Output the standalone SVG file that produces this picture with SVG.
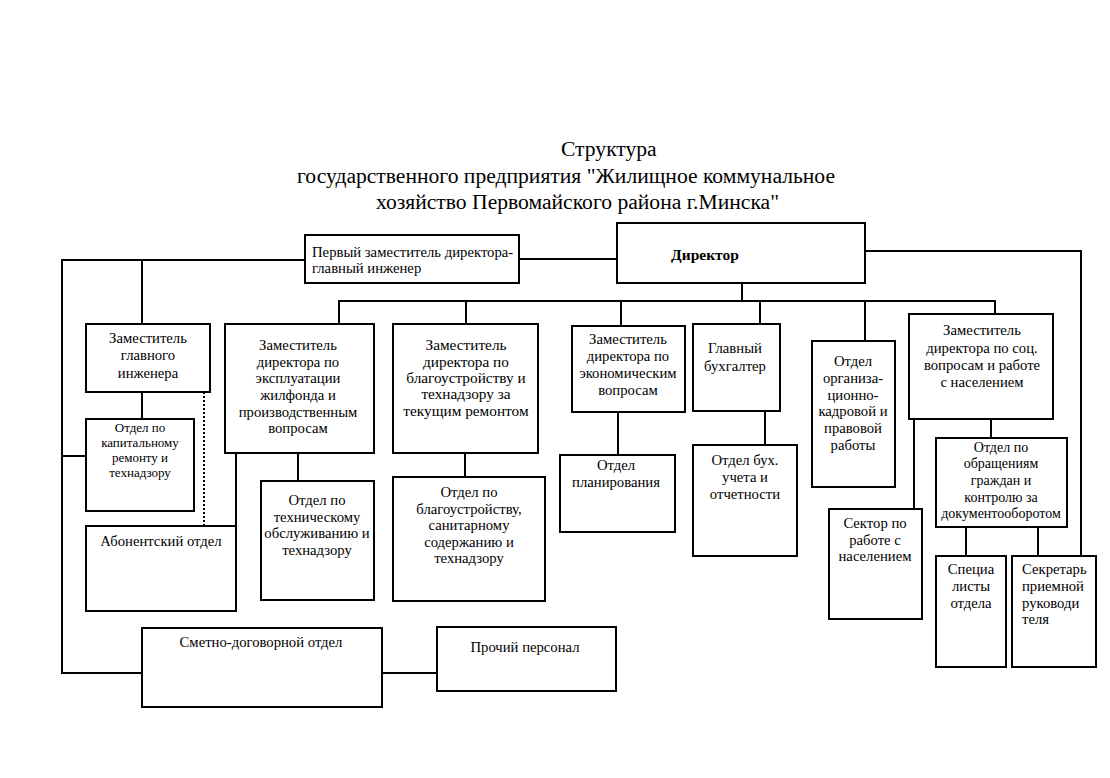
<svg xmlns="http://www.w3.org/2000/svg" width="1110" height="778" viewBox="0 0 1110 778">
<style>
.b{fill:#fff;stroke:#000;stroke-width:2}
.c{fill:none;stroke:#000;stroke-width:2}
.d{fill:none;stroke:#000;stroke-width:2;stroke-dasharray:2 2}
text{font-family:"Liberation Serif","Times New Roman",serif;font-size:14.7px;fill:#000}
.m{text-anchor:middle}
.t{font-size:21.6px}
.s{font-size:13px}
.n{font-size:14px}
.w{font-size:15.3px}
.bold{font-weight:bold;font-size:15.5px}
</style>
<rect width="1110" height="778" fill="#fff"/>
<g id="title">
<text class="t" x="561" y="156">Структура</text>
<text class="t" x="297" y="183">государственного предприятия "Жилищное коммунальное</text>
<text class="t" x="376" y="209">хозяйство Первомайского района г.Минска"</text>
</g>
<g id="connectors">
<polyline class="c" points="519,259 617,259"/>
<polyline class="c" points="305,260 62,260 62,673 142,673"/>
<polyline class="c" points="142,260 142,324"/>
<polyline class="c" points="142,392 142,419"/>
<polyline class="c" points="62,456 86,456"/>
<polyline class="d" points="204,392 204,526"/>
<polyline class="c" points="236,453 236,527"/>
<polyline class="c" points="742,283 742,301"/>
<polyline class="c" points="339,324 339,301 995,301 995,314"/>
<polyline class="c" points="466,301 466,324"/>
<polyline class="c" points="621,301 621,326"/>
<polyline class="c" points="760,301 760,324"/>
<polyline class="c" points="865,301 865,341"/>
<polyline class="c" points="298,453 298,481"/>
<polyline class="c" points="465,453 465,477"/>
<polyline class="c" points="618,412 618,455"/>
<polyline class="c" points="765,411 765,445"/>
<polyline class="c" points="865,251 1081,251 1081,556"/>
<polyline class="c" points="914,419 914,509"/>
<polyline class="c" points="991,419 991,438"/>
<polyline class="c" points="966,527 966,556"/>
<polyline class="c" points="1038,527 1038,556"/>
<polyline class="c" points="382,673 437,673"/>
</g>
<g id="perv-zam">
<rect class="b" x="305" y="235" width="214" height="48"/>
<text x="312" y="257">Первый заместитель директора-</text>
<text x="312" y="273">главный инженер</text>
</g>
<g id="director">
<rect class="b" x="617" y="223" width="248" height="60"/>
<text class="bold m" x="705" y="260">Директор</text>
</g>
<g id="zam-gl-inzh">
<rect class="b" x="86" y="324" width="124" height="68"/>
<text class="m" x="148" y="343">Заместитель</text>
<text class="m" x="148" y="360">главного</text>
<text class="m" x="148" y="378">инженера</text>
</g>
<g id="otdel-kap">
<rect class="b" x="86" y="419" width="108" height="92"/>
<text class="s m" x="140" y="432">Отдел по</text>
<text class="s m" x="140" y="447">капитальному</text>
<text class="s m" x="140" y="462">ремонту и</text>
<text class="s m" x="140" y="477">технадзору</text>
</g>
<g id="abonent">
<rect class="b" x="86" y="526" width="150" height="85"/>
<text class="m" x="161" y="546">Абонентский отдел</text>
</g>
<g id="zam-ekspl">
<rect class="b" x="225" y="324" width="149" height="129"/>
<text class="m" x="298" y="350">Заместитель</text>
<text class="m" x="298" y="367">директора по</text>
<text class="m" x="298" y="383">эксплуатации</text>
<text class="m" x="298" y="400">жилфонда и</text>
<text class="m" x="298" y="417">производственным</text>
<text class="m" x="298" y="433">вопросам</text>
</g>
<g id="otdel-tech">
<rect class="b" x="261" y="481" width="113" height="119"/>
<text class="m" x="317" y="505">Отдел по</text>
<text class="m" x="317" y="522">техническому</text>
<text class="m" x="317" y="538">обслуживанию и</text>
<text class="m" x="317" y="555">технадзору</text>
</g>
<g id="zam-blag">
<rect class="b" x="393" y="324" width="145" height="129"/>
<text class="w m" x="466" y="350">Заместитель</text>
<text class="w m" x="466" y="367">директора по</text>
<text class="w m" x="466" y="383">благоустройству и</text>
<text class="w m" x="466" y="399">технадзору за</text>
<text class="w m" x="466" y="416">текущим ремонтом</text>
</g>
<g id="otdel-blag">
<rect class="b" x="393" y="477" width="152" height="124"/>
<text class="m" x="469" y="497">Отдел по</text>
<text class="m" x="469" y="514">благоустройству,</text>
<text class="m" x="469" y="530">санитарному</text>
<text class="m" x="469" y="547">содержанию и</text>
<text class="m" x="469" y="563">технадзору</text>
</g>
<g id="zam-econ">
<rect class="b" x="572" y="326" width="113" height="86"/>
<text class="m" x="628" y="344">Заместитель</text>
<text class="m" x="628" y="361">директора по</text>
<text class="m" x="628" y="378">экономическим</text>
<text class="m" x="628" y="395">вопросам</text>
</g>
<g id="otdel-plan">
<rect class="b" x="560" y="455" width="115" height="77"/>
<text class="m" x="616" y="470">Отдел</text>
<text class="m" x="616" y="487">планирования</text>
</g>
<g id="gl-buh">
<rect class="b" x="693" y="324" width="87" height="87"/>
<text class="m" x="735" y="353">Главный</text>
<text class="m" x="735" y="371">бухгалтер</text>
</g>
<g id="otdel-buh">
<rect class="b" x="693" y="445" width="104" height="111"/>
<text class="m" x="745" y="465">Отдел бух.</text>
<text class="m" x="745" y="482">учета и</text>
<text class="m" x="745" y="499">отчетности</text>
</g>
<g id="otdel-org">
<rect class="b" x="812" y="341" width="83" height="146"/>
<text class="m" x="853" y="366">Отдел</text>
<text class="m" x="853" y="383">организа-</text>
<text class="m" x="853" y="400">ционно-</text>
<text class="m" x="853" y="416">кадровой и</text>
<text class="m" x="853" y="433">правовой</text>
<text class="m" x="853" y="450">работы</text>
</g>
<g id="zam-soc">
<rect class="b" x="909" y="314" width="144" height="105"/>
<text class="m" x="982" y="335">Заместитель</text>
<text class="m" x="982" y="353">директора по соц.</text>
<text class="m" x="982" y="370">вопросам и работе</text>
<text class="m" x="982" y="387">с населением</text>
</g>
<g id="sector">
<rect class="b" x="829" y="509" width="93" height="110"/>
<text class="m" x="875" y="528">Сектор по</text>
<text class="m" x="875" y="545">работе с</text>
<text class="m" x="875" y="561">населением</text>
</g>
<g id="otdel-obr">
<rect class="b" x="936" y="438" width="131" height="89"/>
<text class="n m" x="1001" y="452">Отдел по</text>
<text class="n m" x="1001" y="468">обращениям</text>
<text class="n m" x="1001" y="485">граждан и</text>
<text class="n m" x="1001" y="502">контролю за</text>
<text class="n m" x="1001" y="518">документооборотом</text>
</g>
<g id="specialisty">
<rect class="b" x="936" y="556" width="70" height="111"/>
<text class="m" x="971" y="574">Специа</text>
<text class="m" x="971" y="591">листы</text>
<text class="m" x="971" y="608">отдела</text>
</g>
<g id="secretar">
<rect class="b" x="1012" y="556" width="84" height="111"/>
<text x="1022" y="574">Секретарь</text>
<text x="1022" y="591">приемной</text>
<text x="1022" y="608">руководи</text>
<text x="1022" y="624">теля</text>
</g>
<g id="smetno">
<rect class="b" x="142" y="628" width="240" height="79"/>
<text class="m" x="261" y="647">Сметно-договорной отдел</text>
</g>
<g id="prochiy">
<rect class="b" x="437" y="627" width="179" height="64"/>
<text class="m" x="525" y="652">Прочий персонал</text>
</g>
</svg>
